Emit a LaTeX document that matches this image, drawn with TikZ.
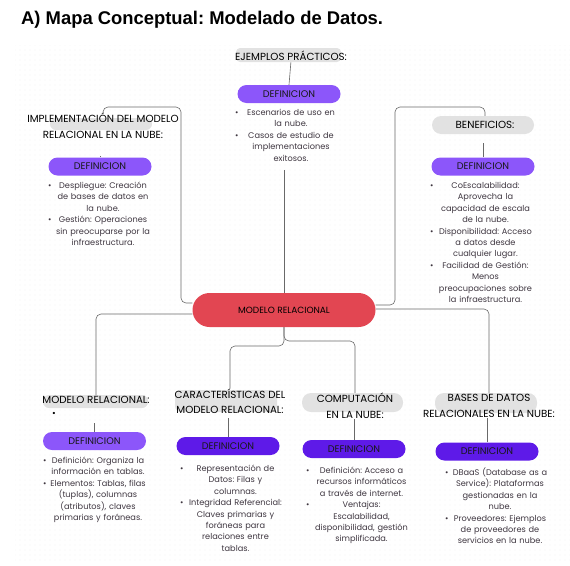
\documentclass[tikz,border=0pt]{standalone}
\usepackage{fontspec}
\setmainfont{Poppins}
\newfontfamily\titlefont{Liberation Sans}
\usetikzlibrary{patterns.meta}
\definecolor{defA}{RGB}{140,86,250}
\definecolor{defB}{RGB}{94,26,232}
\definecolor{redpill}{RGB}{226,70,82}
\definecolor{hlgray}{RGB}{226,226,226}
\definecolor{linegray}{RGB}{105,105,105}
\definecolor{bodytxt}{RGB}{62,54,64}
\pgfdeclarelayer{back}
\pgfdeclarelayer{mid}
\pgfsetlayers{back,mid,main}
\frenchspacing
\newcommand\bul[1]{\leavevmode\hbox to\hsize{\rlap{\textbullet}\hss #1\hss}}

\begin{document}
\begin{tikzpicture}[x=1pt,y=-1pt,
  conn/.style={draw=linegray, line width=.6pt, rounded corners=5pt},
  hl/.style={fill=hlgray, rounded corners=6pt},
  lbl/.style={font=\fontsize{10.3}{15.5}\selectfont, align=center, inner sep=0pt, text=black},
  defpill/.style={fill=#1, rounded corners=9pt, minimum width=103pt, minimum height=18pt, inner sep=0pt, font=\fontsize{9.6}{10}\selectfont, text=black!90},
  lst/.style={font=\fontsize{8.2}{11.4}\selectfont, text=bodytxt, align=center, inner sep=0pt, text width=#1, anchor=base},
  lst/.default=110pt]
\useasboundingbox (0,0) rectangle (570,565);
\begin{pgfonlayer}{back}
\fill[pattern={Dots[radius=.35pt,distance=5pt]}, pattern color=black!14] (15,45) rectangle (570,560);
\end{pgfonlayer}

\node[anchor=base west, inner sep=0pt, font=\titlefont\bfseries\fontsize{18.4}{20}\selectfont] (title) at (21,24) {A) Mapa Conceptual: Modelado de Datos.};

% highlights behind the labels
\fill[hl, rounded corners=4pt] (236,48) rectangle (341,62);
\fill[hl] (50,118) rectangle (152,130);
\fill[hl, rounded corners=9pt] (432,116) rectangle (534,134);
\fill[hl] (43,395) rectangle (148,408);
\fill[hl] (175,390) rectangle (277,412);
\fill[hl, rounded corners=9pt] (302,393) rectangle (403,412);
\fill[hl, rounded corners=9pt] (435,393) rectangle (537,413);

% top
\node[lbl] (ejem) at (291,56) {EJEMPLOS PRÁCTICOS:};
\node[defpill=defA] (defEj) at (289,94) {DEFINICION};
\node[lst=112pt] (lstEj) at (291,115.5) {\bul{Escenarios de uso en}\\ la nube.\\ \bul{Casos de estudio de}\\ implementaciones\\ exitosos.};

\node[lbl] (impl) at (103,126) {IMPLEMENTACIÓN DEL MODELO\\ RELACIONAL EN LA NUBE:};
\node[defpill=defA] (defImpl) at (100,166.5) {DEFINICION};
\node[lst] (lstImpl) at (103,188.5) {\bul{Despliegue: Creación}\\ de bases de datos en\\ la nube.\\ \bul{Gestión: Operaciones}\\ sin preocuparse por la\\ infraestructura.};

\node[lbl] (bene) at (485,125) {BENEFICIOS:};
\node[defpill=defA] (defBene) at (483,166.5) {DEFINICION};
\node[lst=111pt] (lstBene) at (485.5,188.5) {\bul{CoEscalabilidad:}\\ Aprovecha la\\ capacidad de escala\\ de la nube.\\ \bul{Disponibilidad: Acceso}\\ a datos desde\\ cualquier lugar.\\ \bul{Facilidad de Gestión:}\\ Menos\\ preocupaciones sobre\\ la infraestructura.};

% centre
\node[fill=redpill, rounded corners=17pt, minimum width=183pt, minimum height=34pt, inner sep=0pt,
  font=\fontsize{9}{9}\selectfont, text=black] (modelo) at (284,310) {MODELO RELACIONAL};

% bottom
\node[lbl] (mrel) at (96,400) {MODELO RELACIONAL:};
\node[inner sep=0pt, font=\fontsize{9}{9}\selectfont] (mrelDot) at (54,414) {\textbullet};
\node[defpill=defA] (defMrel) at (94.5,441) {DEFINICION};
\node[lst] (lstMrel) at (98,463.5) {\bul{Definición: Organiza la}\\ información en tablas.\\ \bul{Elementos: Tablas, filas}\\ (tuplas), columnas\\ (atributos), claves\\ primarias y foráneas.};

\node[lbl] (carac) at (230,401.5) {CARACTERÍSTICAS DEL\\ MODELO RELACIONAL:};
\node[defpill=defB] (defCarac) at (228,446) {DEFINICION};
\node[lst=111pt] (lstCarac) at (235.5,471.5) {\bul{Representación de}\\ Datos: Filas y\\ columnas.\\ \bul{Integridad Referencial:}\\ Claves primarias y\\ foráneas para\\ relaciones entre\\ tablas.};

\node[lbl] (comp) at (355,406) {COMPUTACIÓN\\ EN LA NUBE:};
\node[defpill=defB] (defComp) at (354,449) {DEFINICION};
\node[lst=111pt] (lstComp) at (361.5,473.5) {\bul{Definición: Acceso a}\\ recursos informáticos\\ a través de internet.\\ \bul{Ventajas:}\\ Escalabilidad,\\ disponibilidad, gestión\\ simplificada.};

\node[lbl] (bases) at (489,406) {BASES DE DATOS\\ RELACIONALES EN LA NUBE:};
\node[defpill=defB] (defBases) at (487,451.5) {DEFINICION};
\node[lst] (lstBases) at (500,475.5) {\bul{DBaaS (Database as a}\\ Service): Plataformas\\ gestionadas en la\\ nube.\\ \bul{Proveedores: Ejemplos}\\ de proveedores de\\ servicios en la nube.};

% connectors
\begin{pgfonlayer}{mid}
\draw[conn] (ejem.south) -- (defEj.north);
\draw[conn, shorten >=9pt] (modelo.north) -- (modelo.north |- lstEj.south);
\draw[conn] ([yshift=7pt]modelo.west) -| (181,107) -| (impl.north);
\draw[conn, shorten >=17pt] (defImpl.north) -- (defImpl.north |- impl.south);
\draw[conn] ([yshift=5pt]modelo.east) -| (395,107) -| (bene.north);
\draw[conn, shorten >=14pt] (defBene.north) -- (defBene.north |- bene.south);
\draw[conn] ([yshift=-4pt]modelo.west) -| (mrel.north);
\draw[conn, shorten >=19pt] (defMrel.north) -- (defMrel.north |- mrel.south);
\draw[conn] (modelo.south) -- (284,346) -| (carac.north);
\draw[conn, shorten >=4pt] (defCarac.north) -- (defCarac.north |- carac.south);
\draw[conn] (modelo.south) -- (284,341) -| (comp.north);
\draw[conn] (defComp.north) -- (defComp.north |- comp.south);
\draw[conn] ([yshift=1pt]modelo.east) -| (bases.north);
\draw[conn] (defBases.north) -- (defBases.north |- bases.south);
\end{pgfonlayer}
\end{tikzpicture}
\end{document}
